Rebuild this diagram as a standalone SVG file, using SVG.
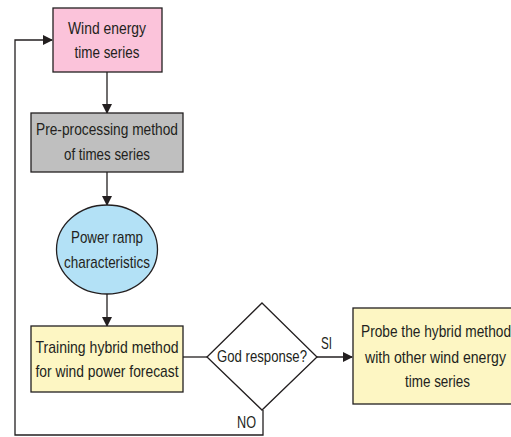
<svg xmlns="http://www.w3.org/2000/svg" width="511" height="437" viewBox="0 0 511 437">
<defs>
<marker id="ah" markerWidth="10" markerHeight="10" refX="9" refY="5" orient="auto" markerUnits="userSpaceOnUse">
<path d="M0,0 L10,5 L0,10 Z" fill="#231f20"/>
</marker>
<style>
.box{stroke:#231f20;stroke-width:1.3}
.t{font-family:"Liberation Sans",Arial,sans-serif;font-size:17px;fill:#231f20;text-anchor:middle}
.c{fill:none;stroke:#231f20;stroke-width:1.3}
</style>
</defs>
<rect width="511" height="437" fill="#ffffff"/>
<g id="connectors">
<line class="c" x1="107" y1="72" x2="107" y2="113" marker-end="url(#ah)"/>
<line class="c" x1="107" y1="172" x2="107" y2="205" marker-end="url(#ah)"/>
<line class="c" x1="107" y1="294" x2="107" y2="326" marker-end="url(#ah)"/>
<line class="c" x1="183" y1="357" x2="207" y2="357"/>
<line class="c" x1="317" y1="357" x2="352" y2="357" marker-end="url(#ah)"/>
<polyline class="c" points="263,410 263,435 15,435 15,40 52,40" marker-end="url(#ah)"/>
<text class="t" x="326.5" y="349" textLength="11" lengthAdjust="spacingAndGlyphs">SI</text>
<text class="t" x="246.5" y="428" textLength="19" lengthAdjust="spacingAndGlyphs">NO</text>
</g>
<g id="n1">
<rect class="box" x="53" y="8" width="109" height="64" fill="#fbc3da"/>
<text class="t" x="107" y="34" textLength="78" lengthAdjust="spacingAndGlyphs">Wind energy</text>
<text class="t" x="107" y="58" textLength="65" lengthAdjust="spacingAndGlyphs">time series</text>
</g>
<g id="n2">
<rect class="box" x="31" y="113" width="152" height="59" fill="#bfbfbf"/>
<text class="t" x="107" y="135" textLength="142" lengthAdjust="spacingAndGlyphs">Pre-processing method</text>
<text class="t" x="107" y="160" textLength="86" lengthAdjust="spacingAndGlyphs">of times series</text>
</g>
<g id="n3">
<ellipse class="box" cx="107" cy="249.5" rx="50.5" ry="44.5" fill="#b3e1f6"/>
<text class="t" x="107" y="243" textLength="72" lengthAdjust="spacingAndGlyphs">Power ramp</text>
<text class="t" x="107" y="268" textLength="86" lengthAdjust="spacingAndGlyphs">characteristics</text>
</g>
<g id="n4">
<rect class="box" x="31" y="326" width="152" height="66" fill="#fdf6c3"/>
<text class="t" x="107" y="353" textLength="143" lengthAdjust="spacingAndGlyphs">Training hybrid method</text>
<text class="t" x="107" y="377" textLength="143" lengthAdjust="spacingAndGlyphs">for wind power forecast</text>
</g>
<g id="n5">
<polygon class="box" points="262,303 317,357 262,410 207,357" fill="#ffffff"/>
<text class="t" x="262" y="362" textLength="90" lengthAdjust="spacingAndGlyphs">God response?</text>
</g>
<g id="n6">
<rect class="box" x="353" y="308" width="166" height="96" fill="#fdf6c3"/>
<text class="t" x="436" y="337" textLength="150" lengthAdjust="spacingAndGlyphs">Probe the hybrid method</text>
<text class="t" x="435.5" y="363" textLength="141" lengthAdjust="spacingAndGlyphs">with other wind energy</text>
<text class="t" x="437.5" y="387" textLength="65" lengthAdjust="spacingAndGlyphs">time series</text>
</g>
</svg>
